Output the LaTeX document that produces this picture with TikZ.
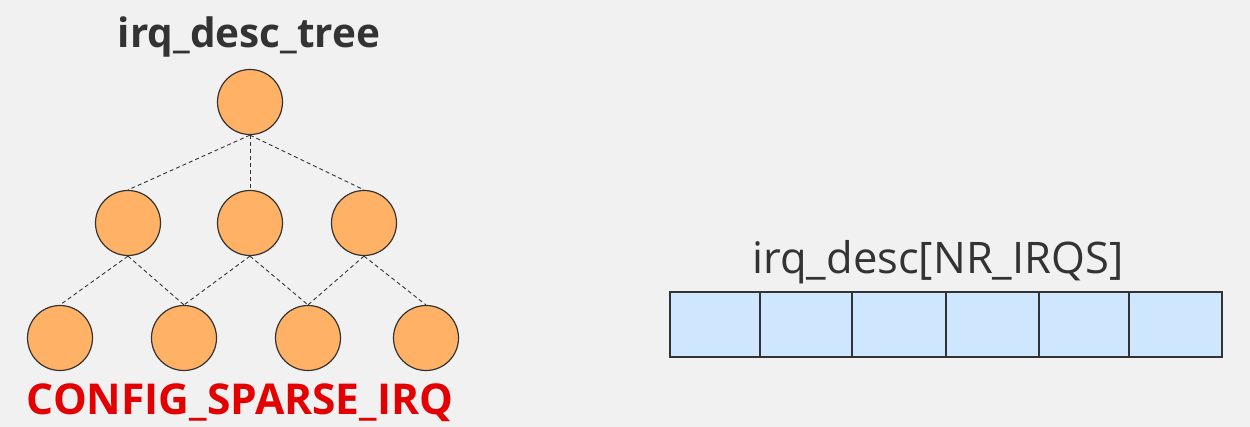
\documentclass[tikz,border=0pt]{standalone}
\usepackage{fontspec}
\setmainfont{Open Sans}
\definecolor{bgcol}{RGB}{241,241,241}
\definecolor{nodefill}{RGB}{255,178,102}
\definecolor{cellfill}{RGB}{207,230,255}
\definecolor{linecol}{RGB}{51,51,51}
\definecolor{titlecol}{RGB}{51,51,51}
\definecolor{redcol}{RGB}{228,0,0}
\tikzset{
  treenode/.style={circle, draw=linecol, line width=1.2pt, fill=nodefill, minimum size=65pt, inner sep=0pt},
  treeedge/.style={draw=linecol, line width=0.9pt, dash pattern=on 4pt off 3pt},
  cell/.style={draw=linecol, line width=1.8pt, fill=cellfill, minimum height=65pt, inner sep=0pt, anchor=north west},
  title/.style={text=titlecol, font=\fontsize{40.5}{46}\selectfont\bfseries},
}
\begin{document}
\begin{tikzpicture}[x=1pt,y=-1pt]
\useasboundingbox[fill=bgcol] (0,0) rectangle (1250,427);
% title
\node[title] (treetitle) at (249,37) {irq\_desc\_tree};
% tree nodes
\node[treenode] (r) at (250,102) {};
\node[treenode] (m1) at (128,223) {};
\node[treenode] (m2) at (250,223) {};
\node[treenode] (m3) at (364,223) {};
\node[treenode] (b1) at (60,338) {};
\node[treenode] (b2) at (184,338) {};
\node[treenode] (b3) at (308,338) {};
\node[treenode] (b4) at (426,338) {};
% edges
\draw[treeedge] (r.south) -- (m1.north);
\draw[treeedge] (r.south) -- (m2.north);
\draw[treeedge] (r.south) -- (m3.north);
\draw[treeedge] (m1.south) -- (b1.north);
\draw[treeedge] (m1.south) -- (b2.north);
\draw[treeedge] (m2.south) -- (b2.north);
\draw[treeedge] (m2.south) -- (b3.north);
\draw[treeedge] (m3.south) -- (b3.north);
\draw[treeedge] (m3.south) -- (b4.north);
% config label
\node[text=redcol, font=\fontsize{42.5}{48}\selectfont\bfseries] (cfg) at (240,403) {CONFIG\_SPARSE\_IRQ};
% array
\node[text=titlecol, font=\fontsize{43.5}{50}\selectfont] (arrtitle) at (938,262) {irq\_desc[NR\_IRQS]};
\node[cell, minimum width=90pt] (c1) at (669,291) {};
\node[cell, minimum width=92pt] (c2) at (759,291) {};
\node[cell, minimum width=94pt] (c3) at (851,291) {};
\node[cell, minimum width=93pt] (c4) at (945,291) {};
\node[cell, minimum width=90pt] (c5) at (1038,291) {};
\node[cell, minimum width=93pt] (c6) at (1128,291) {};
\end{tikzpicture}
\end{document}
